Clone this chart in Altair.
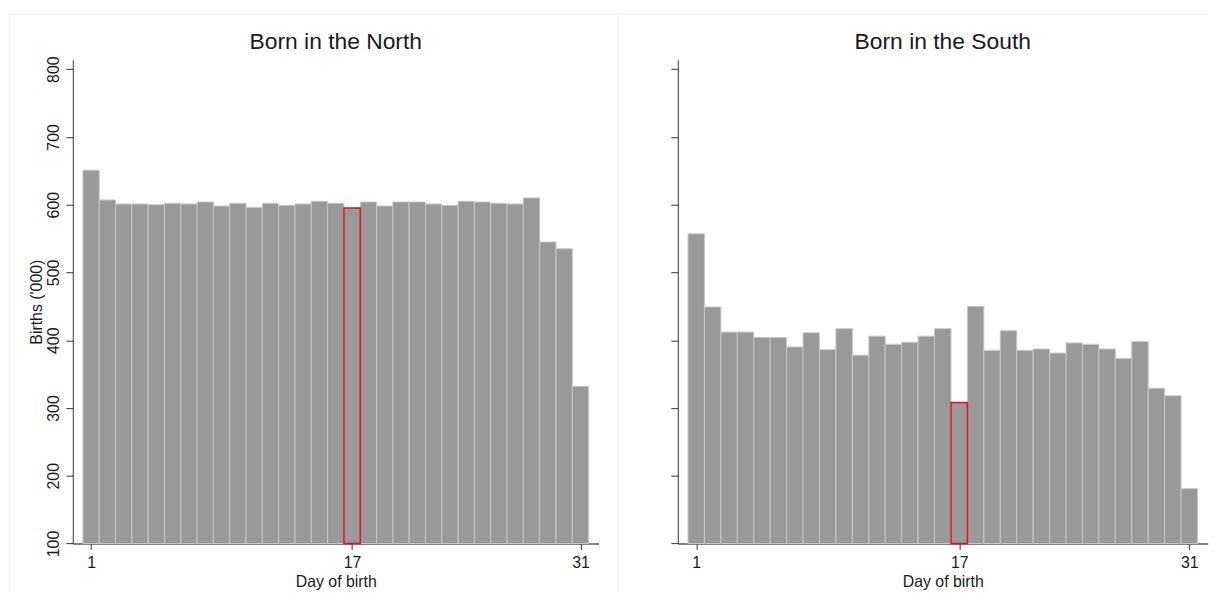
import altair as alt
import pandas as pd

# ---- data (births, thousands) ----
days = list(range(1, 32))
north = [651, 607, 601, 601, 600, 602, 601, 604, 598, 602, 596, 602, 599, 601, 605, 602,
         595, 604, 598, 604, 604, 601, 599, 605, 604, 602, 601, 610, 545, 535, 332]
south = [557, 449, 412, 412, 404, 404, 390, 411, 386, 417, 378, 406, 394, 397, 406, 417,
         308, 450, 385, 414, 385, 387, 381, 396, 394, 387, 373, 398, 329, 318, 181]
panel_titles = ["Born in the North", "Born in the South"]
highlight_day = 17
x_ticks = [1, 17, 31]
y_ticks = [100, 200, 300, 400, 500, 600, 700, 800]

FONT = "Liberation Sans"
GRAY = "#999999"
EDGE = "#c8c8c8"
RED = "#e3121b"
TXT = "#1a1a1a"
FRAME = "#e6eded"
PLOT_H = 487.4


def frame_lines(left_x, top_x2):
    """Faint graph-region frame (left edge and top edge) drawn around a panel."""
    one = alt.Chart(pd.DataFrame({"k": [0]}))
    vline = one.mark_rule(color=FRAME, strokeWidth=1).encode(
        x=alt.value(left_x), y=alt.value(-46), y2=alt.value(PLOT_H + 49)
    )
    hline = one.mark_rule(color=FRAME, strokeWidth=1).encode(
        x=alt.value(left_x), x2=alt.value(top_x2), y=alt.value(-46)
    )
    return [vline, hline]


def panel(values, title, width, first):
    df = pd.DataFrame({"day": days, "births": values})
    base = alt.Chart(df).transform_calculate(
        lo="datum.day - 0.5", hi="datum.day + 0.5", base="100"
    )
    xs = alt.Scale(domain=[-0.12, 32.12], nice=False, zero=False)
    ys = alt.Scale(domain=[100, 813.7], nice=False, zero=False)
    xaxis = alt.Axis(
        values=x_ticks, title="Day of birth", grid=False,
        labelFont=FONT, labelFontSize=16, labelColor=TXT, labelPadding=5.5,
        labelFlush=False,
        titleFont=FONT, titleFontSize=16, titleColor=TXT, titleFontWeight="normal",
        titlePadding=3,
        tickSize=6, tickColor="#333333", tickWidth=1,
        domainColor="#555555", domainWidth=1.5,
    )
    yaxis = alt.Axis(
        values=y_ticks, title="Births ('000)" if first else None, grid=False,
        labelFont=FONT, labelFontSize=16,
        labelColor=TXT if first else "transparent",
        labelAngle=270, labelAlign="center", labelBaseline="alphabetic",
        labelPadding=7.5, labelFlush=False,
        titleFont=FONT, titleFontSize=16, titleColor=TXT, titleFontWeight="normal",
        titlePadding=1,
        tickSize=7, tickColor="#333333", tickWidth=1,
        domainColor="#333333", domainWidth=1,
    )
    bars = base.mark_bar(fill=GRAY, stroke=EDGE, strokeWidth=1).encode(
        x=alt.X("lo:Q", scale=xs, axis=xaxis),
        x2="hi:Q",
        y=alt.Y("births:Q", scale=ys, axis=yaxis),
        y2="base:Q",
    )
    red = base.transform_filter(f"datum.day == {highlight_day}").mark_bar(
        fill=GRAY, stroke=RED, strokeWidth=1.5
    ).encode(
        x=alt.X("lo:Q", scale=xs),
        x2="hi:Q",
        y=alt.Y("births:Q", scale=ys),
        y2="base:Q",
    )
    if first:
        lines = frame_lines(-64, 546.7)
    else:
        lines = frame_lines(-60, width)
    return alt.layer(*lines, bars, red).properties(
        width=width, height=PLOT_H,
        title=alt.TitleParams(
            title, font=FONT, fontSize=23, fontWeight="normal", color=TXT,
            anchor="middle", frame="group", baseline="alphabetic", offset=-59,
        ),
    )


left = panel(north, panel_titles[0], 530, True)
right = panel(south, panel_titles[1], 534, False)

chart = alt.hconcat(left, right, spacing=79.7, bounds="flush").properties(
    padding={"left": 0.3, "top": 3.0, "right": 0, "bottom": 0},
    background="white",
).configure_view(stroke=None)

chart.save("out.html", embed_options={"renderer": "svg", "actions": False})
